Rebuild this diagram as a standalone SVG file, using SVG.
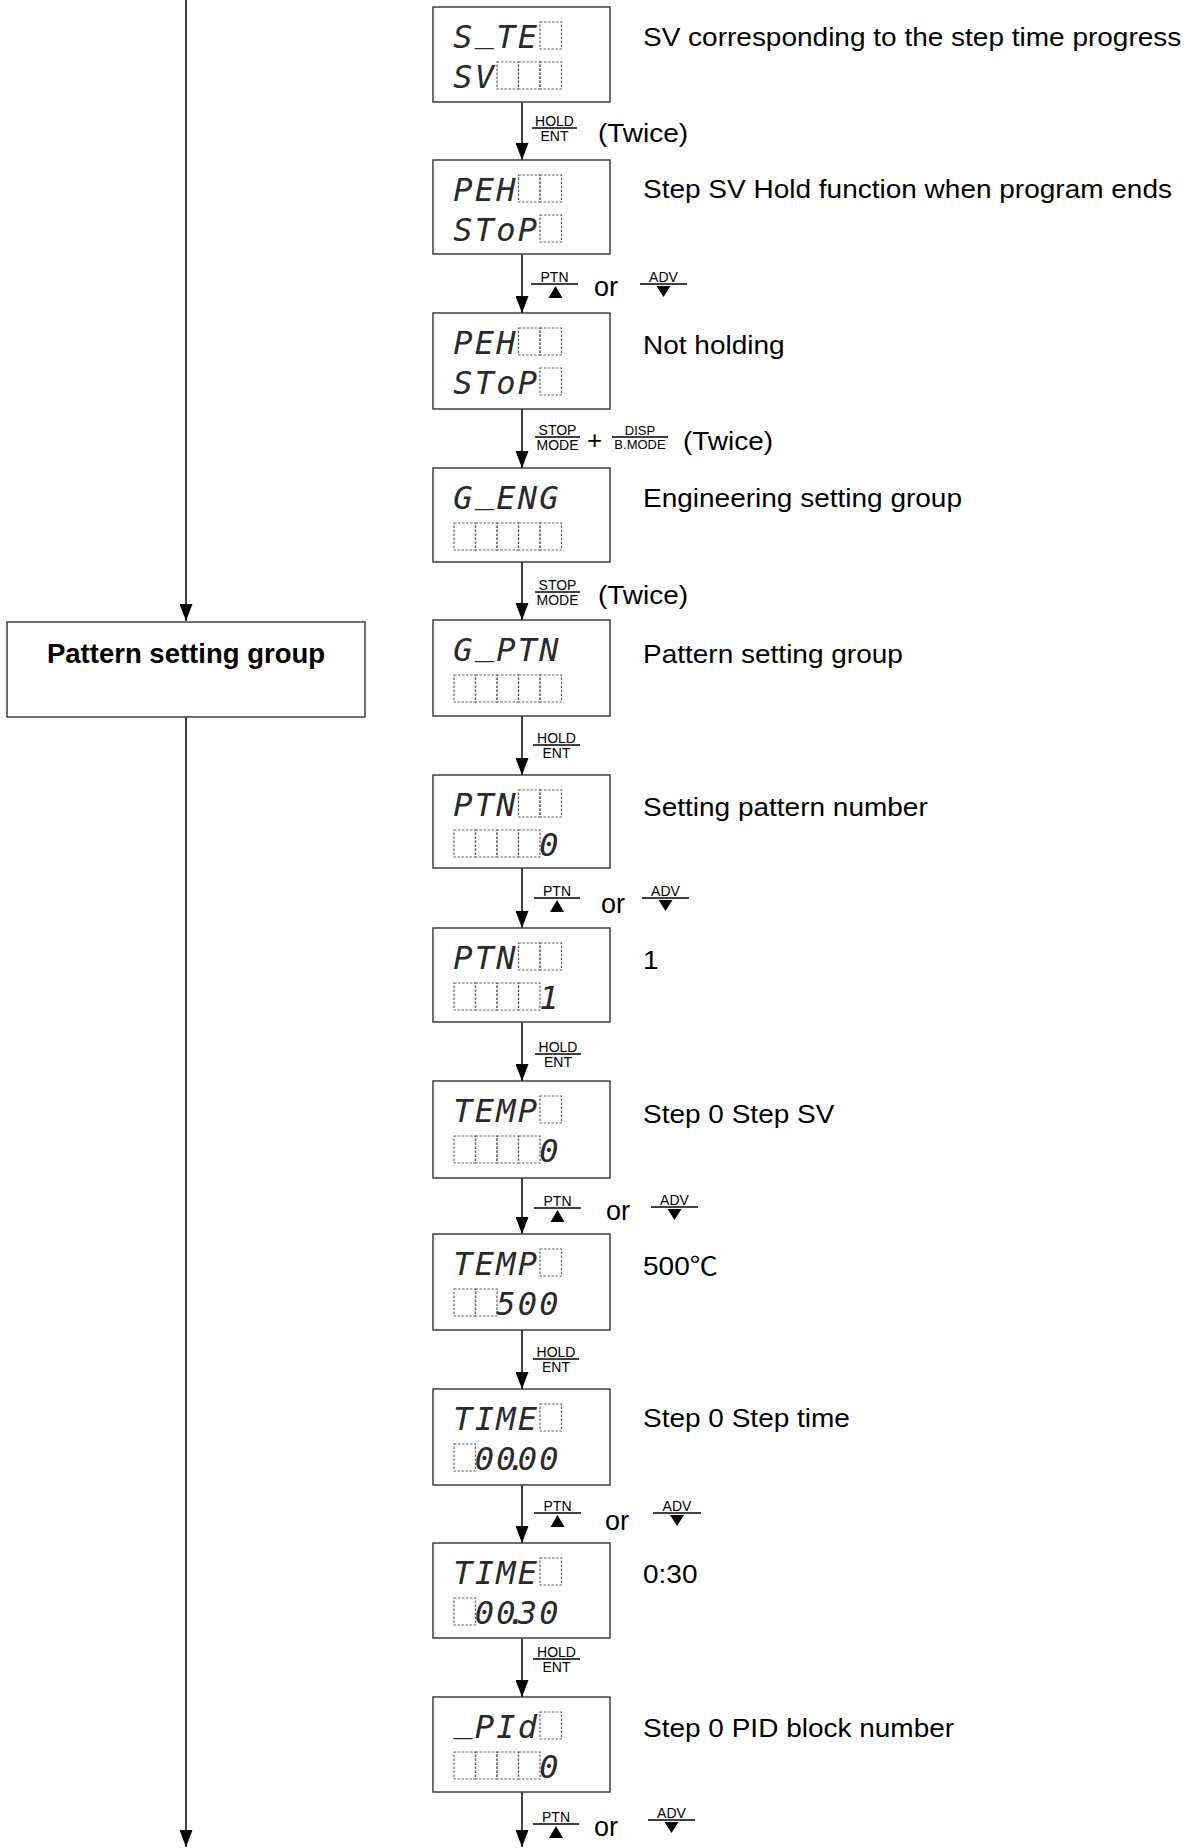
<svg xmlns="http://www.w3.org/2000/svg" width="1191" height="1848" viewBox="0 0 1191 1848">
<defs>
<style>
.box{fill:#fff;stroke:#333;stroke-width:1.4}
.ln{stroke:#000;stroke-width:1.5;fill:none}
.fr{stroke:#000;stroke-width:1.4}
.seg{font-family:"DejaVu Sans Mono",monospace;font-style:oblique;font-size:32px;fill:#2a2a2a;text-anchor:middle}
.cell{fill:none;stroke:#666;stroke-width:1.2;stroke-dasharray:2.5 1.5}
.t{font-family:"Liberation Sans",Arial,"Noto Sans CJK JP",sans-serif;font-size:25px;fill:#000}
.or{font-family:"Liberation Sans",Arial,sans-serif;font-size:27px;fill:#000}
.k{font-family:"Liberation Sans",Arial,sans-serif;font-size:14px;fill:#000;text-anchor:middle}
.ks{font-family:"Liberation Sans",Arial,sans-serif;font-size:13px;fill:#000;text-anchor:middle}
.lb{font-family:"Liberation Sans",Arial,sans-serif;font-size:27.5px;font-weight:bold;fill:#000;text-anchor:middle}
.tri{fill:#000}
</style>
<marker id="ah" viewBox="0 0 17 13" refX="17" refY="6.5" markerWidth="17" markerHeight="13" markerUnits="userSpaceOnUse" orient="auto">
<path d="M0,0 L17,6.5 L0,13 z" fill="#000"/>
</marker>
</defs>
<rect width="1191" height="1848" fill="#fff"/>

<g id="connectors">
<line class="ln" x1="186" y1="0" x2="186" y2="621" marker-end="url(#ah)"/>
<line class="ln" x1="186" y1="717" x2="186" y2="1847" marker-end="url(#ah)"/>
<line class="ln" x1="522" y1="102" x2="522" y2="160" marker-end="url(#ah)"/>
<line class="ln" x1="522" y1="254" x2="522" y2="313" marker-end="url(#ah)"/>
<line class="ln" x1="522" y1="409" x2="522" y2="468" marker-end="url(#ah)"/>
<line class="ln" x1="522" y1="562" x2="522" y2="620" marker-end="url(#ah)"/>
<line class="ln" x1="522" y1="716" x2="522" y2="775" marker-end="url(#ah)"/>
<line class="ln" x1="522" y1="868" x2="522" y2="928" marker-end="url(#ah)"/>
<line class="ln" x1="522" y1="1022" x2="522" y2="1081" marker-end="url(#ah)"/>
<line class="ln" x1="522" y1="1178" x2="522" y2="1234" marker-end="url(#ah)"/>
<line class="ln" x1="522" y1="1330" x2="522" y2="1389" marker-end="url(#ah)"/>
<line class="ln" x1="522" y1="1485" x2="522" y2="1543" marker-end="url(#ah)"/>
<line class="ln" x1="522" y1="1638" x2="522" y2="1697" marker-end="url(#ah)"/>
<line class="ln" x1="522" y1="1792" x2="522" y2="1847" marker-end="url(#ah)"/>
</g>

<g id="connector-labels">
<!-- C1 HOLD/ENT (Twice) -->
<line class="fr" x1="532" y1="128" x2="577" y2="128"/>
<text class="k" x="554.5" y="125.5">HOLD</text><text class="k" x="554.5" y="140.5">ENT</text>
<text class="t" transform="translate(598,142) scale(1.12,1)">(Twice)</text>
<!-- C2 PTN or ADV -->
<line class="fr" x1="531" y1="284" x2="578" y2="284"/>
<text class="k" x="554.5" y="281.5">PTN</text>
<polygon class="tri" points="555.5,286 562.5,298 548.5,298"/>
<text class="or" x="594" y="296">or</text>
<line class="fr" x1="640" y1="284" x2="687" y2="284"/>
<text class="k" x="663.5" y="281.5">ADV</text>
<polygon class="tri" points="656.5,286 670.5,286 663.5,297"/>
<!-- C3 STOP/MODE + DISP/B.MODE (Twice) -->
<line class="fr" x1="535" y1="437" x2="580" y2="437"/>
<text class="k" x="557.5" y="434.5">STOP</text><text class="k" x="557.5" y="449.5">MODE</text>
<text class="or" x="587" y="449" style="font-size:26px">+</text>
<line class="fr" x1="612" y1="437" x2="668" y2="437"/>
<text class="ks" x="640" y="434.5">DISP</text><text class="ks" x="640" y="449">B.MODE</text>
<text class="t" transform="translate(683,450) scale(1.12,1)">(Twice)</text>
<!-- C4 STOP/MODE (Twice) -->
<line class="fr" x1="535" y1="592" x2="580" y2="592"/>
<text class="k" x="557.5" y="589.5">STOP</text><text class="k" x="557.5" y="604.5">MODE</text>
<text class="t" transform="translate(598,604) scale(1.12,1)">(Twice)</text>
<!-- C5 HOLD/ENT -->
<line class="fr" x1="533" y1="745" x2="580" y2="745"/>
<text class="k" x="556.5" y="742.5">HOLD</text><text class="k" x="556.5" y="757.5">ENT</text>
<!-- C6 PTN or ADV -->
<line class="fr" x1="534" y1="898" x2="580" y2="898"/>
<text class="k" x="557" y="895.5">PTN</text>
<polygon class="tri" points="557,900 564,912 550,912"/>
<text class="or" x="601" y="913">or</text>
<line class="fr" x1="642" y1="898" x2="689" y2="898"/>
<text class="k" x="665.5" y="895.5">ADV</text>
<polygon class="tri" points="658.5,900 672.5,900 665.5,911"/>
<!-- C7 HOLD/ENT -->
<line class="fr" x1="535" y1="1054" x2="581" y2="1054"/>
<text class="k" x="558" y="1051.5">HOLD</text><text class="k" x="558" y="1066.5">ENT</text>
<!-- C8 PTN or ADV -->
<line class="fr" x1="534" y1="1208" x2="581" y2="1208"/>
<text class="k" x="557.5" y="1205.5">PTN</text>
<polygon class="tri" points="557.5,1210 564.5,1222 550.5,1222"/>
<text class="or" x="606" y="1220">or</text>
<line class="fr" x1="651" y1="1207" x2="698" y2="1207"/>
<text class="k" x="674.5" y="1204.5">ADV</text>
<polygon class="tri" points="667.5,1209 681.5,1209 674.5,1220"/>
<!-- C9 HOLD/ENT -->
<line class="fr" x1="533" y1="1359" x2="579" y2="1359"/>
<text class="k" x="556" y="1356.5">HOLD</text><text class="k" x="556" y="1371.5">ENT</text>
<!-- C10 PTN or ADV -->
<line class="fr" x1="534" y1="1513" x2="581" y2="1513"/>
<text class="k" x="557.5" y="1510.5">PTN</text>
<polygon class="tri" points="557.5,1515 564.5,1527 550.5,1527"/>
<text class="or" x="605" y="1530">or</text>
<line class="fr" x1="653" y1="1513" x2="701" y2="1513"/>
<text class="k" x="677" y="1510.5">ADV</text>
<polygon class="tri" points="670,1515 684,1515 677,1526"/>
<!-- C11 HOLD/ENT -->
<line class="fr" x1="533" y1="1659" x2="580" y2="1659"/>
<text class="k" x="556.5" y="1656.5">HOLD</text><text class="k" x="556.5" y="1671.5">ENT</text>
<!-- C12 PTN or ADV -->
<line class="fr" x1="533" y1="1824" x2="579" y2="1824"/>
<text class="k" x="556" y="1821.5">PTN</text>
<polygon class="tri" points="556,1826 563,1838 549,1838"/>
<text class="or" x="594" y="1836">or</text>
<line class="fr" x1="648" y1="1820" x2="695" y2="1820"/>
<text class="k" x="671.5" y="1817.5">ADV</text>
<polygon class="tri" points="664.5,1822 678.5,1822 671.5,1833"/>
</g>

<g id="pattern-setting-group-left">
<rect class="box" x="7" y="622" width="358" height="95"/>
<text class="lb" x="186" y="663">Pattern setting group</text>
</g>

<g id="d1">
<rect class="box" x="433" y="7" width="177" height="95"/>
<text class="seg" x="463 484.5 506 527.5" y="48 42 48 48">S_TE</text>
<rect class="cell" x="540" y="22" width="21.5" height="27"/>
<text class="seg" x="463 484.5" y="88">SV</text>
<rect class="cell" x="497" y="62" width="21.5" height="27"/><rect class="cell" x="518.5" y="62" width="21.5" height="27"/><rect class="cell" x="540" y="62" width="21.5" height="27"/>
<text class="t" transform="translate(643,46) scale(1.12,1)">SV corresponding to the step time progress</text>
</g>

<g id="d2">
<rect class="box" x="433" y="160" width="177" height="94"/>
<text class="seg" x="463 484.5 506" y="201">PEH</text>
<rect class="cell" x="518.5" y="175" width="21.5" height="27"/><rect class="cell" x="540" y="175" width="21.5" height="27"/>
<text class="seg" x="463 484.5 506 527.5" y="241">SToP</text>
<rect class="cell" x="540" y="215" width="21.5" height="27"/>
<text class="t" transform="translate(643,198) scale(1.12,1)">Step SV Hold function when program ends</text>
</g>

<g id="d3">
<rect class="box" x="433" y="313" width="177" height="96"/>
<text class="seg" x="463 484.5 506" y="354">PEH</text>
<rect class="cell" x="518.5" y="328" width="21.5" height="27"/><rect class="cell" x="540" y="328" width="21.5" height="27"/>
<text class="seg" x="463 484.5 506 527.5" y="394">SToP</text>
<rect class="cell" x="540" y="368" width="21.5" height="27"/>
<text class="t" transform="translate(643,354) scale(1.12,1)">Not holding</text>
</g>

<g id="d4">
<rect class="box" x="433" y="468" width="177" height="94"/>
<text class="seg" x="463 484.5 506 527.5 549" y="509 503 509 509 509">G_ENG</text>
<rect class="cell" x="454" y="523" width="21.5" height="27"/><rect class="cell" x="475.5" y="523" width="21.5" height="27"/><rect class="cell" x="497" y="523" width="21.5" height="27"/><rect class="cell" x="518.5" y="523" width="21.5" height="27"/><rect class="cell" x="540" y="523" width="21.5" height="27"/>
<text class="t" transform="translate(643,507) scale(1.12,1)">Engineering setting group</text>
</g>

<g id="d5">
<rect class="box" x="433" y="620" width="177" height="96"/>
<text class="seg" x="463 484.5 506 527.5 549" y="661 655 661 661 661">G_PTN</text>
<rect class="cell" x="454" y="675" width="21.5" height="27"/><rect class="cell" x="475.5" y="675" width="21.5" height="27"/><rect class="cell" x="497" y="675" width="21.5" height="27"/><rect class="cell" x="518.5" y="675" width="21.5" height="27"/><rect class="cell" x="540" y="675" width="21.5" height="27"/>
<text class="t" transform="translate(643,663) scale(1.12,1)">Pattern setting group</text>
</g>

<g id="d6">
<rect class="box" x="433" y="775" width="177" height="93"/>
<text class="seg" x="463 484.5 506" y="816">PTN</text>
<rect class="cell" x="518.5" y="790" width="21.5" height="27"/><rect class="cell" x="540" y="790" width="21.5" height="27"/>
<rect class="cell" x="454" y="830" width="21.5" height="27"/><rect class="cell" x="475.5" y="830" width="21.5" height="27"/><rect class="cell" x="497" y="830" width="21.5" height="27"/><rect class="cell" x="518.5" y="830" width="21.5" height="27"/>
<text class="seg" x="549" y="856">0</text>
<text class="t" transform="translate(643,816) scale(1.12,1)">Setting pattern number</text>
</g>

<g id="d7">
<rect class="box" x="433" y="928" width="177" height="94"/>
<text class="seg" x="463 484.5 506" y="969">PTN</text>
<rect class="cell" x="518.5" y="943" width="21.5" height="27"/><rect class="cell" x="540" y="943" width="21.5" height="27"/>
<rect class="cell" x="454" y="983" width="21.5" height="27"/><rect class="cell" x="475.5" y="983" width="21.5" height="27"/><rect class="cell" x="497" y="983" width="21.5" height="27"/><rect class="cell" x="518.5" y="983" width="21.5" height="27"/>
<text class="seg" x="549" y="1009">1</text>
<text class="t" transform="translate(643,969) scale(1.12,1)">1</text>
</g>

<g id="d8">
<rect class="box" x="433" y="1081" width="177" height="97"/>
<text class="seg" x="463 484.5 506 527.5" y="1122">TEMP</text>
<rect class="cell" x="540" y="1096" width="21.5" height="27"/>
<rect class="cell" x="454" y="1136" width="21.5" height="27"/><rect class="cell" x="475.5" y="1136" width="21.5" height="27"/><rect class="cell" x="497" y="1136" width="21.5" height="27"/><rect class="cell" x="518.5" y="1136" width="21.5" height="27"/>
<text class="seg" x="549" y="1162">0</text>
<text class="t" transform="translate(643,1123) scale(1.12,1)">Step 0 Step SV</text>
</g>

<g id="d9">
<rect class="box" x="433" y="1234" width="177" height="96"/>
<text class="seg" x="463 484.5 506 527.5" y="1275">TEMP</text>
<rect class="cell" x="540" y="1249" width="21.5" height="27"/>
<rect class="cell" x="454" y="1289" width="21.5" height="27"/><rect class="cell" x="475.5" y="1289" width="21.5" height="27"/>
<text class="seg" x="506 527.5 549" y="1315">500</text>
<text class="t" transform="translate(643,1275) scale(1.12,1)">500℃</text>
</g>

<g id="d10">
<rect class="box" x="433" y="1389" width="177" height="96"/>
<text class="seg" x="463 484.5 506 527.5" y="1430">TIME</text>
<rect class="cell" x="540" y="1404" width="21.5" height="27"/>
<rect class="cell" x="454" y="1444" width="21.5" height="27"/>
<text class="seg" x="484.5 506 517 527.5 549" y="1470">00.00</text>
<text class="t" transform="translate(643,1427) scale(1.12,1)">Step 0 Step time</text>
</g>

<g id="d11">
<rect class="box" x="433" y="1543" width="177" height="95"/>
<text class="seg" x="463 484.5 506 527.5" y="1584">TIME</text>
<rect class="cell" x="540" y="1558" width="21.5" height="27"/>
<rect class="cell" x="454" y="1598" width="21.5" height="27"/>
<text class="seg" x="484.5 506 517 527.5 549" y="1624">00.30</text>
<text class="t" transform="translate(643,1583) scale(1.12,1)">0:30</text>
</g>

<g id="d12">
<rect class="box" x="433" y="1697" width="177" height="95"/>
<text class="seg" x="463 484.5 506 527.5" y="1732 1738 1738 1738">_PId</text>
<rect class="cell" x="540" y="1712" width="21.5" height="27"/>
<rect class="cell" x="454" y="1752" width="21.5" height="27"/><rect class="cell" x="475.5" y="1752" width="21.5" height="27"/><rect class="cell" x="497" y="1752" width="21.5" height="27"/><rect class="cell" x="518.5" y="1752" width="21.5" height="27"/>
<text class="seg" x="549" y="1778">0</text>
<text class="t" transform="translate(643,1737) scale(1.12,1)">Step 0 PID block number</text>
</g>
</svg>
